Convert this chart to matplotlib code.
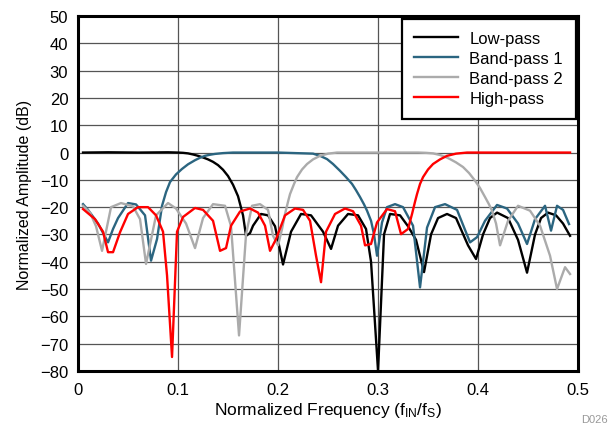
import matplotlib
matplotlib.use("Agg")
import matplotlib.pyplot as plt

plt.rcParams['font.family'] = ['Liberation Sans', 'DejaVu Sans']
plt.rcParams['mathtext.fontset'] = 'custom'
plt.rcParams['mathtext.rm'] = 'Liberation Sans'
plt.rcParams['mathtext.it'] = 'Liberation Sans:italic'

# Low-pass response (normalized freq, dB)
lp_x = [0.005, 0.03, 0.06, 0.09, 0.10, 0.105, 0.11, 0.115, 0.12, 0.125, 0.13,
        0.135, 0.14, 0.145, 0.15, 0.155, 0.16, 0.165, 0.168, 0.172, 0.175,
        0.183, 0.19, 0.197, 0.205, 0.213, 0.223, 0.233, 0.245, 0.253, 0.26,
        0.27, 0.28, 0.288, 0.293, 0.300, 0.306, 0.312, 0.322, 0.33, 0.338,
        0.346, 0.353, 0.36, 0.369, 0.378, 0.39, 0.398, 0.405, 0.412, 0.419,
        0.43, 0.44, 0.449, 0.457, 0.463, 0.47, 0.478, 0.485, 0.492]
lp_y = [0.0, 0.1, 0.0, 0.1, 0.0, -0.1, -0.3, -0.7, -1.2, -1.8, -2.5,
        -3.4, -4.6, -6.3, -8.6, -11.8, -16, -23, -30.5, -29.5, -26.8,
        -22.5, -23, -27, -41, -29, -22.5, -23, -29, -35.3, -26.8,
        -22.5, -23, -28, -40, -80, -30, -22.5, -23, -27, -32,
        -43.8, -30, -24, -22.5, -24, -34, -39, -30, -24, -22,
        -24, -32, -44, -30, -24, -22, -23, -26, -30.5]

# Band-pass 1
bp1_x = [0.005, 0.01, 0.02, 0.03, 0.035, 0.04, 0.05, 0.058, 0.067, 0.073,
         0.079, 0.084, 0.088, 0.092, 0.098, 0.104, 0.11, 0.117, 0.122, 0.127,
         0.132, 0.137, 0.145, 0.155, 0.2, 0.235, 0.242, 0.249, 0.255, 0.262,
         0.268, 0.274, 0.278, 0.282, 0.286, 0.289, 0.293, 0.296, 0.299, 0.304,
         0.309, 0.317, 0.325, 0.335, 0.342, 0.349, 0.357, 0.367, 0.379, 0.392,
         0.399, 0.407, 0.419, 0.429, 0.44, 0.449, 0.457, 0.467, 0.473, 0.479,
         0.485, 0.491]
bp1_y = [-18.9, -21, -26, -32.9, -28, -24, -18.5, -19, -23, -39.6,
         -31.7, -19.5, -14.5, -10.8, -8, -6, -4.3, -2.8, -1.9, -1.2,
         -0.8, -0.5, -0.2, 0.0, 0.0, -0.4, -1.2, -2.4, -4.2, -6.7,
         -9, -11.5, -13.8, -16.3, -19, -21.3, -25, -30, -37.8, -25.6,
         -20, -18.9, -20, -26.8, -49.4, -27.5, -20, -18.9, -21, -32.9,
         -31, -25, -19.2, -20.5, -26, -33.5, -24.4, -19.5, -28.6, -19.5,
         -21, -26.2]

# Band-pass 2
bp2_x = [0.005, 0.012, 0.018, 0.024, 0.033, 0.043, 0.055, 0.062, 0.068, 0.078,
         0.09, 0.098, 0.108, 0.117, 0.125, 0.135, 0.147, 0.153, 0.161, 0.168,
         0.174, 0.182, 0.19, 0.195, 0.2, 0.204, 0.207, 0.21, 0.212, 0.216,
         0.219, 0.224, 0.229, 0.235, 0.242, 0.25, 0.259, 0.34, 0.348, 0.355,
         0.362, 0.368, 0.372, 0.378, 0.385, 0.391, 0.397, 0.402, 0.407, 0.411,
         0.414, 0.418, 0.422, 0.43, 0.44, 0.452, 0.462, 0.472, 0.479, 0.487,
         0.492]
bp2_y = [-19.5, -22, -27, -36, -20, -18.5, -19.7, -24.4, -40.8, -23,
         -18.5, -20.5, -26, -35, -24, -18.9, -19.5, -27, -67, -30,
         -19.5, -18.9, -21, -30.5, -34, -28, -22.5, -18, -15.2, -11.5,
         -9, -6.2, -4.2, -2.5, -1.2, -0.4, 0.0, 0.0, -0.1, -0.3,
         -0.9, -1.7, -2.4, -3.6, -5.3, -7.5, -10.3, -13, -16.3, -19,
         -21.3, -26, -34, -25, -19.5, -21.3, -26.8, -37.8, -50, -42,
         -44.5]

# High-pass
hp_x = [0.005, 0.017, 0.025, 0.03, 0.035, 0.042, 0.05, 0.06, 0.07, 0.078,
        0.085, 0.089, 0.094, 0.099, 0.105, 0.117, 0.125, 0.135, 0.142, 0.148,
        0.153, 0.162, 0.172, 0.18, 0.187, 0.192, 0.198, 0.207, 0.217, 0.225,
        0.232, 0.238, 0.243, 0.248, 0.257, 0.267, 0.275, 0.283, 0.287, 0.293,
        0.299, 0.309, 0.317, 0.323, 0.33, 0.334, 0.337, 0.339, 0.342, 0.345,
        0.35, 0.355, 0.362, 0.369, 0.378, 0.389, 0.492]
hp_y = [-20.7, -24.4, -29, -36.5, -36.5, -29.2, -22.5, -20, -20, -23,
        -29, -45, -74.9, -29, -23.6, -20.3, -21, -25, -36, -35,
        -26.8, -21.6, -20.5, -22, -26.8, -36, -31.7, -23, -20.5, -21,
        -25, -37.8, -47.5, -29, -22.5, -20.5, -21.5, -26.8, -34, -33.5,
        -25.6, -20.7, -21.5, -29.9, -28, -22.5, -18, -15.2, -11.5, -9,
        -6.2, -4.2, -2.5, -1.2, -0.4, 0.0, 0.0]

x_ticks = [0, 0.1, 0.2, 0.3, 0.4, 0.5]
x_labels = ['0', '0.1', '0.2', '0.3', '0.4', '0.5']
y_ticks = list(range(-80, 51, 10))

fig = plt.figure(figsize=(6.12, 4.27), dpi=100)
ax = fig.add_axes([0.1275, 0.129, 0.817, 0.831])

ax.plot(lp_x, lp_y, color='black', lw=1.7, label='Low-pass', zorder=3)
ax.plot(bp1_x, bp1_y, color='#2b6580', lw=1.7, label='Band-pass 1', zorder=3)
ax.plot(bp2_x, bp2_y, color='#ababab', lw=1.7, label='Band-pass 2', zorder=3)
ax.plot(hp_x, hp_y, color='#ff0000', lw=1.7, label='High-pass', zorder=3)

ax.set_xlim(0, 0.5)
ax.set_ylim(-80, 50)
ax.set_xticks(x_ticks)
ax.set_xticklabels(x_labels)
ax.set_yticks(y_ticks)
ax.tick_params(length=0, labelsize=12)
ax.tick_params(axis='x', pad=8)
ax.tick_params(axis='y', pad=7)
ax.grid(True, color='#555555', lw=0.9)
ax.set_axisbelow(True)
for s in ax.spines.values():
    s.set_linewidth(2.2)
    s.set_color('black')

ax.set_xlabel(r'Normalized Frequency (f$_{\mathrm{IN}}$/f$_{\mathrm{S}}$)', fontsize=12.5, labelpad=2)
ax.set_ylabel('Normalized Amplitude (dB)', fontsize=11.5, labelpad=6)

leg = ax.legend(loc='upper right', fontsize=12, fancybox=False, framealpha=1,
                edgecolor='black', borderaxespad=0.15, handlelength=2.6,
                labelspacing=0.3, borderpad=0.75, handletextpad=0.7)
leg.get_frame().set_linewidth(1.6)

fig.text(0.993, 0.005, 'D026', fontsize=8, color='#999999', ha='right', va='bottom')

fig.savefig('out.png', dpi=100)
